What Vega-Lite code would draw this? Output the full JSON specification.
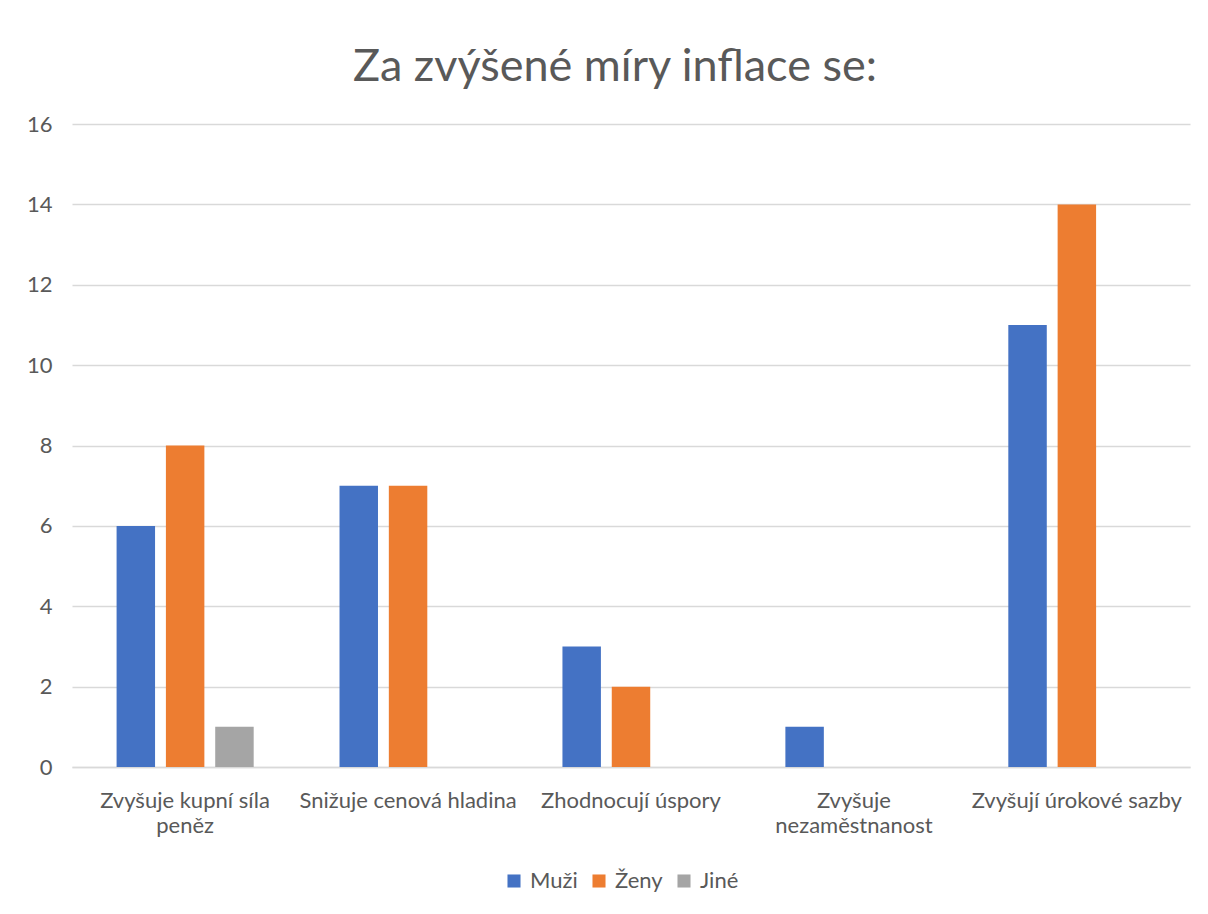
{
  "$schema": "https://vega.github.io/schema/vega-lite/v6.json",
  "width": 1118,
  "height": 643,
  "autosize": {"type": "none"},
  "padding": {"left": 72, "top": 124, "right": 18, "bottom": 147},
  "background": "white",
  "title": {
    "text": "Za zvýšené míry inflace se:",
    "font": "Lato",
    "fontSize": 45,
    "fontWeight": "normal",
    "color": "#595959",
    "anchor": "middle",
    "dx": -16,
    "offset": 23
  },
  "data": {
    "values": [
      {"kategorie": "Zvyšuje kupní síla peněz", "skupina": "Muži", "pocet": 6},
      {"kategorie": "Zvyšuje kupní síla peněz", "skupina": "Ženy", "pocet": 8},
      {"kategorie": "Zvyšuje kupní síla peněz", "skupina": "Jiné", "pocet": 1},
      {"kategorie": "Snižuje cenová hladina", "skupina": "Muži", "pocet": 7},
      {"kategorie": "Snižuje cenová hladina", "skupina": "Ženy", "pocet": 7},
      {"kategorie": "Snižuje cenová hladina", "skupina": "Jiné", "pocet": 0},
      {"kategorie": "Zhodnocují úspory", "skupina": "Muži", "pocet": 3},
      {"kategorie": "Zhodnocují úspory", "skupina": "Ženy", "pocet": 2},
      {"kategorie": "Zhodnocují úspory", "skupina": "Jiné", "pocet": 0},
      {"kategorie": "Zvyšuje nezaměstnanost", "skupina": "Muži", "pocet": 1},
      {"kategorie": "Zvyšuje nezaměstnanost", "skupina": "Ženy", "pocet": 0},
      {"kategorie": "Zvyšuje nezaměstnanost", "skupina": "Jiné", "pocet": 0},
      {"kategorie": "Zvyšují úrokové sazby", "skupina": "Muži", "pocet": 11},
      {"kategorie": "Zvyšují úrokové sazby", "skupina": "Ženy", "pocet": 14},
      {"kategorie": "Zvyšují úrokové sazby", "skupina": "Jiné", "pocet": 0}
    ]
  },
  "mark": {"type": "bar"},
  "encoding": {
    "x": {
      "field": "kategorie",
      "type": "nominal",
      "sort": null,
      "scale": {"paddingInner": 0.385, "paddingOuter": 0.2},
      "axis": {
        "title": null,
        "labelAngle": 0,
        "labelFont": "Lato",
        "labelFontSize": 22,
        "labelColor": "#595959",
        "labelPadding": 33,
        "labelLineHeight": 25,
        "labelBaseline": "middle",
        "ticks": false,
        "domainColor": "#D9D9D9",
        "domainWidth": 1.5,
        "labelLimit": 300,
        "labelExpr": "datum.label == 'Zvyšuje kupní síla peněz' ? ['Zvyšuje kupní síla', 'peněz'] : datum.label == 'Zvyšuje nezaměstnanost' ? ['Zvyšuje', 'nezaměstnanost'] : datum.label"
      }
    },
    "xOffset": {
      "field": "skupina",
      "type": "nominal",
      "sort": ["Muži", "Ženy", "Jiné"],
      "scale": {"paddingInner": 0.22, "paddingOuter": 0}
    },
    "y": {
      "field": "pocet",
      "type": "quantitative",
      "scale": {"domain": [0, 16]},
      "axis": {
        "title": null,
        "values": [0, 2, 4, 6, 8, 10, 12, 14, 16],
        "labelFont": "Lato",
        "labelFontSize": 22,
        "labelColor": "#595959",
        "labelPadding": 20,
        "ticks": false,
        "domain": false,
        "gridColor": "#D9D9D9",
        "gridWidth": 1.5
      }
    },
    "color": {
      "field": "skupina",
      "type": "nominal",
      "sort": ["Muži", "Ženy", "Jiné"],
      "scale": {"domain": ["Muži", "Ženy", "Jiné"], "range": ["#4472C4", "#ED7D31", "#A5A5A5"]},
      "legend": {
        "title": null,
        "orient": "none",
        "legendX": 431,
        "legendY": 746,
        "direction": "horizontal",
        "symbolType": "square",
        "symbolSize": 170,
        "symbolStrokeWidth": 0,
        "labelFont": "Lato",
        "labelFontSize": 22,
        "labelColor": "#595959",
        "columnPadding": 10,
        "labelOffset": 5
      }
    }
  },
  "config": {
    "view": {"stroke": null}
  }
}
